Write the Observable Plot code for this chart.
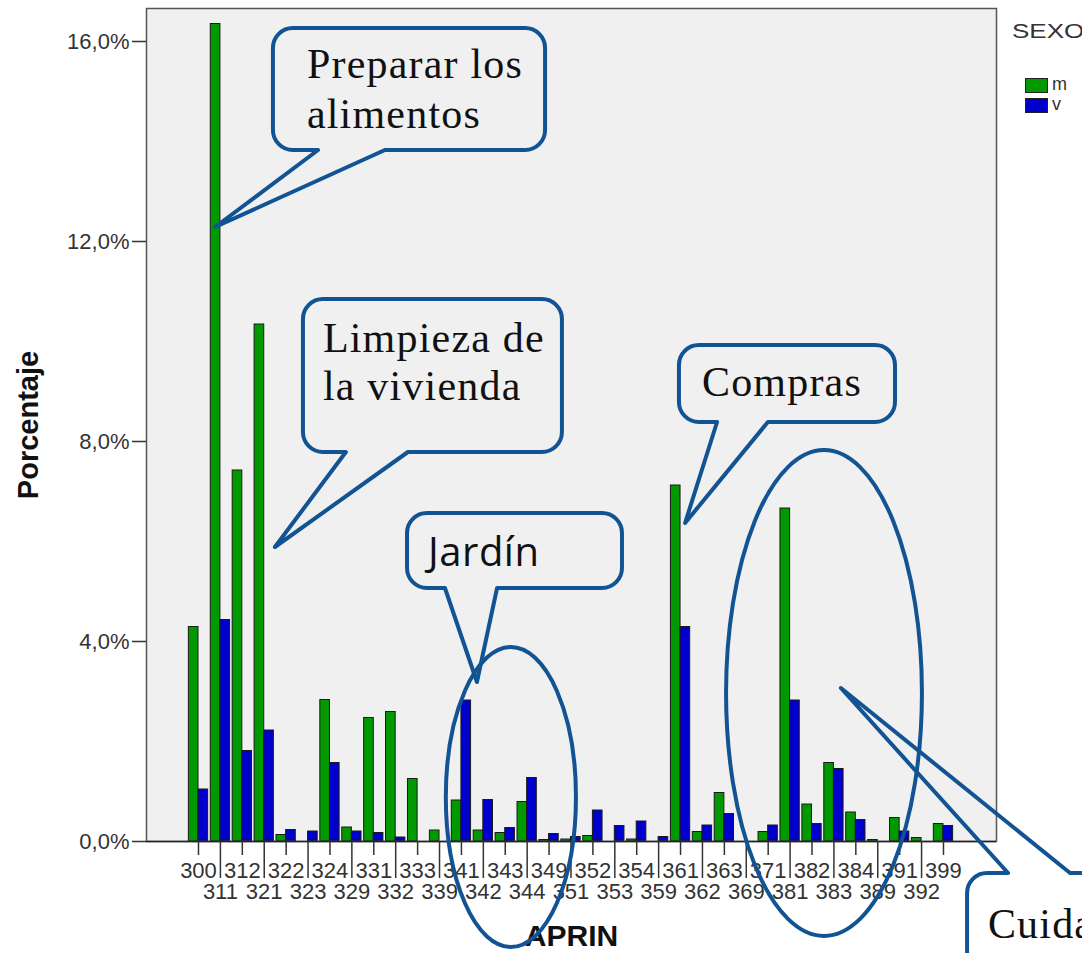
<!DOCTYPE html>
<html>
<head>
<meta charset="utf-8">
<script src="https://cdn.jsdelivr.net/npm/d3@7"></script>
<script src="https://cdn.jsdelivr.net/npm/@observablehq/plot@0.6"></script>
<style>
  html, body { margin: 0; padding: 0; background: #fff; overflow: hidden; width: 1082px; height: 953px; }
  #wrap { position: relative; width: 1082px; height: 953px; overflow: hidden; }
  #legend { position: absolute; left: 0; top: 0; font-family: "Liberation Sans", Arial, sans-serif; color: #333; }
  #legend .title { position: absolute; left: 1012px; top: 20px; font-size: 20px; white-space: nowrap; transform: scaleX(1.3); transform-origin: left top; }
  #legend .sw { position: absolute; left: 1025px; width: 21px; height: 13px; border: 1px solid #222; }
  #legend .lab { position: absolute; left: 1052px; font-size: 18px; line-height: 15px; }
</style>
</head>
<body>
<div id="wrap"></div>
<script>
// ---- data ----
const categories = ["300","311","312","321","322","323","324","329","331","332","333","339",
  "341","342","343","344","349","351","352","353","354","359","361","362","363","369",
  "371","381","382","383","384","389","391","392","399"];
const seriesM = [4.29,16.35,7.42,10.34,0.13,0,2.83,0.28,2.47,2.59,1.25,0.22,
  0.82,0.22,0.17,0.79,0.03,0.04,0.11,0,0.04,0,7.12,0.19,0.97,0,
  0.19,6.66,0.74,1.57,0.58,0.03,0.47,0.07,0.35];
const seriesV = [1.04,4.43,1.81,2.22,0.23,0.2,1.57,0.2,0.17,0.08,0,0,
  2.82,0.83,0.27,1.27,0.15,0.09,0.62,0.31,0.4,0.09,4.29,0.32,0.55,0,
  0.32,2.82,0.35,1.45,0.43,0,0.2,0,0.31];
const sexes = ["m", "v"];
const yTicks = [0, 4, 8, 12, 16];
const xTitle = "APRIN";
const yTitle = "Porcentaje";
const legendTitle = "SEXO";

// ---- styles ----
const colors = {m: "#009a00", v: "#0000cc"};
const annColor = "#115393";

const rows = categories.map((c, i) => ({i, cat: c, m: seriesM[i], v: seriesV[i]}));
const evenIdx = categories.map((c, i) => i).filter(i => i % 2 === 0);
const oddIdx = categories.map((c, i) => i).filter(i => i % 2 === 1);
const fmtPct = d => d.toFixed(1).replace(".", ",") + "%";
const W = 0.44;

const chart = Plot.plot({
  width: 1082,
  height: 953,
  marginLeft: 146,
  marginRight: 86,
  marginTop: 8,
  marginBottom: 112,
  style: {fontFamily: "'Liberation Sans', Arial, sans-serif", background: "#fff", overflow: "visible"},
  x: {type: "linear", domain: [-2.373, 36.42], axis: null},
  y: {domain: [0, 16.66], axis: null},
  marks: [
    Plot.frame({fill: "#f0f0f0", stroke: null}),
    Plot.rect(rows.filter(d => d.m > 0), {x1: d => d.i - W, x2: d => d.i, y1: d => 0, y2: "m", fill: colors.m, stroke: "#1a1a1a", strokeWidth: 1}),
    Plot.rect(rows.filter(d => d.v > 0), {x1: d => d.i, x2: d => d.i + W, y1: d => 0, y2: "v", fill: colors.v, stroke: "#1a1a1a", strokeWidth: 1}),
    Plot.frame({stroke: "#555", strokeWidth: 1.5}),
    Plot.ruleY([0], {stroke: "#222", strokeWidth: 1.5}),
    Plot.axisY(yTicks, {anchor: "left", tickSize: 14, tickPadding: 3, tickFormat: fmtPct, fontSize: 22, label: null, color: "#333", strokeWidth: 1.5}),
    Plot.axisX(evenIdx, {anchor: "bottom", tickSize: 14, tickPadding: 7, tickFormat: i => categories[i], fontSize: 22, label: null, color: "#333", strokeWidth: 1.5}),
    Plot.axisX(oddIdx, {anchor: "bottom", tickSize: 37, tickPadding: 5, tickFormat: i => categories[i], fontSize: 22, label: null, color: "#333", strokeWidth: 1.5}),
    Plot.text([yTitle], {frameAnchor: "left", dx: -118, rotate: -90, textAnchor: "middle", fontSize: 29, fontWeight: "bold", fill: "#111"}),
    Plot.text([xTitle], {frameAnchor: "bottom", dy: 104, textAnchor: "middle", fontSize: 30, fontWeight: "bold", fill: "#111"})
  ]
});
document.getElementById("wrap").appendChild(chart);

// ---- legend ----
const leg = document.createElement("div");
leg.id = "legend";
let html = `<div class="title">${legendTitle}</div>`;
sexes.forEach((s, k) => {
  const top = 78 + k * 20;
  html += `<div class="sw" style="top:${top}px;background:${colors[s]}"></div>`;
  html += `<div class="lab" style="top:${top - 1}px">${s}</div>`;
});
leg.innerHTML = html;
document.getElementById("wrap").appendChild(leg);

// ---- annotations (callouts and ellipses, placed in data coordinates) ----
const callouts = [
  {lines: ["Preparar los", "alimentos"], sans: false, box: [3.42, 16.26, 15.84, 13.82], side: "bottom", a: 5.48, b: 8.53, tip: [0.78, 12.28], tx: 4.97, ty: [15.26, 14.26]},
  {lines: ["Limpieza de", "la vivienda"], sans: false, box: [4.79, 10.84, 16.61, 7.78], side: "bottom", a: 6.75, b: 9.58, tip: [3.51, 5.88], tx: 5.70, ty: [9.78, 8.82]},
  {lines: ["Compras"], sans: false, box: [21.95, 9.92, 31.81, 8.38], side: "bottom", a: 23.69, b: 26.01, tip: [22.23, 6.36], tx: 23.0, ty: [8.9]},
  {lines: ["Jardín"], sans: true, box: [9.54, 6.56, 19.35, 5.06], side: "bottom", a: 11.27, b: 13.65, tip: [12.73, 3.18], tx: 10.50, ty: [5.5]},
  {lines: ["Cuidado"], sans: false, box: [35.10, -0.64, 45.0, -4.5], side: "top", a: 36.97, b: 39.80, tip: [29.34, 3.06], tx: 36.05, ty: [-1.94]}
];
const ellipses = [
  {cx: 14.28, cy: 0.88, rx: 2.97, ry: 3.0},
  {cx: 28.57, cy: 2.96, rx: 4.47, ry: 4.86}
];

const xs = chart.scale("x"), ys = chart.scale("y");
const sx = v => xs.apply(v), sy = v => ys.apply(v);
const svg = d3.select(chart.tagName.toLowerCase() === "svg" ? chart : chart.querySelector("svg"));
const g = svg.append("g").attr("class", "annotations").attr("text-anchor", "start");

ellipses.forEach(e => {
  g.append("ellipse")
    .attr("cx", sx(e.cx)).attr("cy", sy(e.cy))
    .attr("rx", sx(e.cx + e.rx) - sx(e.cx))
    .attr("ry", sy(e.cy - e.ry) - sy(e.cy))
    .attr("fill", "none").attr("stroke", annColor).attr("stroke-width", 4);
});

const r = 20;
callouts.forEach(c => {
  const x1 = sx(c.box[0]), y1 = sy(c.box[1]), x2 = sx(c.box[2]), y2 = sy(c.box[3]);
  const a = sx(c.a), b = sx(c.b), tx = sx(c.tip[0]), ty = sy(c.tip[1]);
  let p;
  if (c.side === "bottom") {
    p = `M${x1 + r},${y1} H${x2 - r} A${r},${r} 0 0 1 ${x2},${y1 + r} V${y2 - r} A${r},${r} 0 0 1 ${x2 - r},${y2} H${b} L${tx},${ty} L${a},${y2} H${x1 + r} A${r},${r} 0 0 1 ${x1},${y2 - r} V${y1 + r} A${r},${r} 0 0 1 ${x1 + r},${y1} Z`;
  } else {
    p = `M${x1 + r},${y1} H${a} L${tx},${ty} L${b},${y1} H${x2 - r} A${r},${r} 0 0 1 ${x2},${y1 + r} V${y2 - r} A${r},${r} 0 0 1 ${x2 - r},${y2} H${x1 + r} A${r},${r} 0 0 1 ${x1},${y2 - r} V${y1 + r} A${r},${r} 0 0 1 ${x1 + r},${y1} Z`;
  }
  g.append("path").attr("d", p).attr("fill", "none").attr("stroke", annColor)
    .attr("stroke-width", 4).attr("stroke-linejoin", "round");
  c.lines.forEach((line, k) => {
    g.append("text").attr("x", sx(c.tx)).attr("y", sy(c.ty[k]))
      .attr("text-anchor", "start")
      .attr("font-family", c.sans ? "'Open Sans', 'Noto Sans', sans-serif" : "'Liberation Serif', 'DejaVu Serif', serif")
      .attr("font-size", c.sans ? 40 : 42)
      .attr("letter-spacing", c.sans ? 0.5 : 1.2)
      .attr("fill", "#111").text(line);
  });
});
</script>
</body>
</html>
